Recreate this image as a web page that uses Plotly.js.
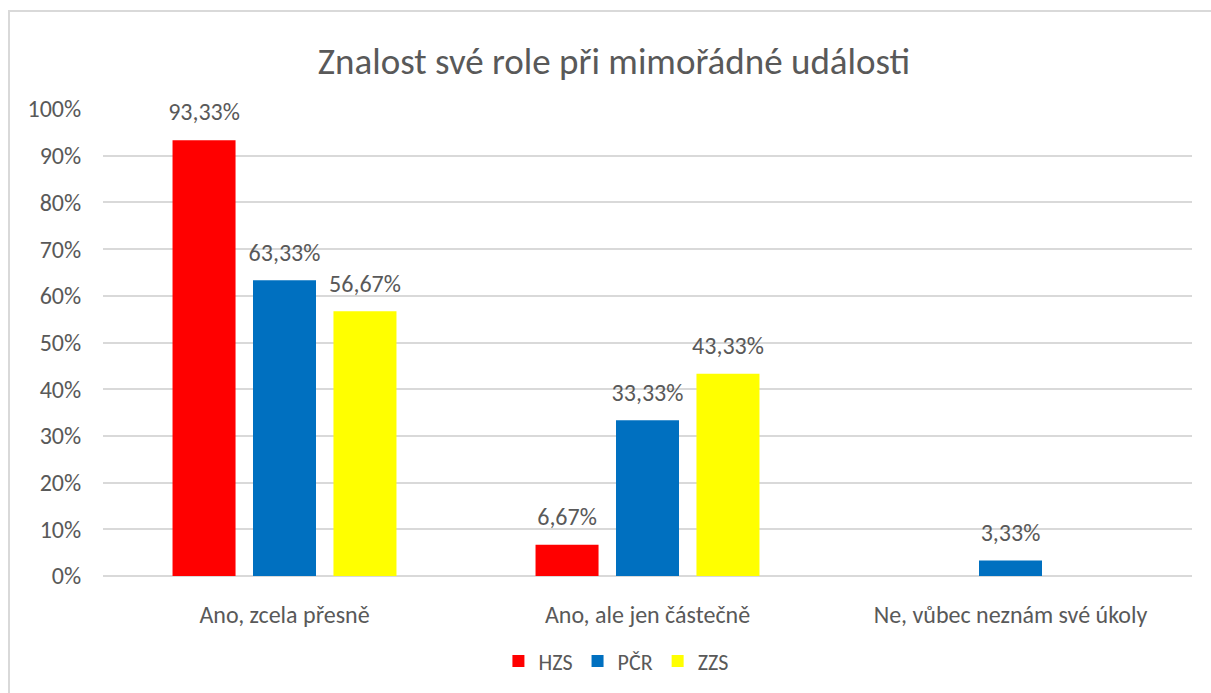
<!DOCTYPE html>
<html>
<head>
<meta charset="utf-8">
<script src="https://cdn.plot.ly/plotly-3.0.1.min.js"></script>
<style>
  html, body { margin: 0; padding: 0; background: #ffffff; overflow: hidden; }
  #chart { position: absolute; left: 0; top: 0; width: 1211px; height: 693px; }
  #frame { position: absolute; left: 8px; top: 10px; width: 1400px; height: 900px;
           border: 2px solid #d9d9d9; box-sizing: border-box; pointer-events: none; }
</style>
</head>
<body>
<div id="chart"></div>
<div id="frame"></div>
<script>
const categories = ["Ano, zcela přesně", "Ano, ale jen částečně", "Ne, vůbec neznám své úkoly"];
const seriesNames = ["HZS", "PČR", "ZZS"];
const hzs = [93.33, 6.67, 0];
const pcr = [63.33, 33.33, 3.33];
const zzs = [56.67, 43.33, 0];
const tickValues = [0, 10, 20, 30, 40, 50, 60, 70, 80, 90, 100];

const colors = ["#FF0000", "#0070C0", "#FFFF00"];
const allValues = [hzs, pcr, zzs];
const FONT = "Carlito, Lato, 'Open Sans', sans-serif";
const TEXT = "#595959";
const LABEL_PAD = 2.3;

function fmt(v) { return v > 0 ? v.toFixed(2).replace('.', ',') + '%' : ''; }

const traces = [];
allValues.forEach((vals, i) => {
  traces.push({
    type: 'bar', name: seriesNames[i], x: categories, y: vals,
    offsetgroup: String(i), marker: { color: colors[i] },
    hoverinfo: 'x+y+name'
  });
});
allValues.forEach((vals, i) => {
  traces.push({
    type: 'bar', x: categories, y: vals.map(() => LABEL_PAD), base: vals,
    offsetgroup: String(i), marker: { color: 'rgba(0,0,0,0)' },
    text: vals.map(fmt), textposition: 'outside', constraintext: 'none',
    cliponaxis: false, outsidetextfont: { family: FONT, size: 24, color: TEXT },
    showlegend: false, hoverinfo: 'skip'
  });
});

const layout = {
  width: 1211, height: 693,
  margin: { l: 103, r: 19, t: 109, b: 116 },
  paper_bgcolor: '#ffffff', plot_bgcolor: '#ffffff',
  font: { family: FONT, color: TEXT, size: 22 },
  separators: ',.',
  title: { text: "Znalost své role při mimořádné události",
           font: { family: FONT, size: 37, color: TEXT },
           x: 0.507, xanchor: 'center', y: 0.912, yanchor: 'middle' },
  barmode: 'group', bargap: 0.335, bargroupgap: 0.217,
  xaxis: { type: 'category', showgrid: false, showline: false, zeroline: false,
           ticks: 'outside', ticklen: 17, tickcolor: 'rgba(0,0,0,0)',
           tickfont: { family: FONT, size: 24, color: TEXT } },
  yaxis: { range: [0, 100], tickvals: tickValues, ticktext: tickValues.map(v => v + '%'),
           showgrid: true, gridcolor: '#d9d9d9', gridwidth: 2,
           zeroline: true, zerolinecolor: '#d9d9d9', zerolinewidth: 2,
           showline: false, ticks: 'outside', ticklen: 16, tickcolor: 'rgba(0,0,0,0)',
           tickfont: { family: FONT, size: 24, color: TEXT }, fixedrange: true },
  showlegend: true,
  legend: { orientation: 'h', x: 0.471, xanchor: 'center', y: -0.18, yanchor: 'middle',
            font: { family: FONT, size: 22, color: TEXT },
            itemwidth: 30, traceorder: 'normal' }
};

Plotly.newPlot('chart', traces, layout, { displayModeBar: false, staticPlot: true });
</script>
</body>
</html>
